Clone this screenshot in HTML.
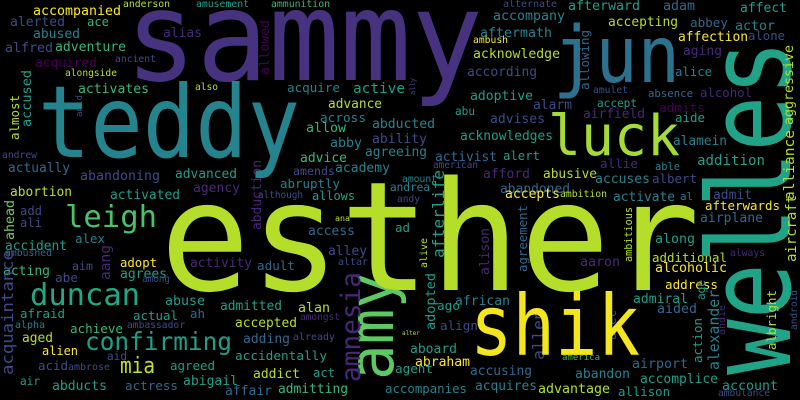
<!DOCTYPE html>
<html>
<head>
<meta charset="utf-8">
<style>
  html, body { margin: 0; padding: 0; background: #000; }
  #cloud { display: block; width: 800px; height: 400px; background: #000; }
  text { font-family: "DejaVu Sans Mono", "Liberation Mono", monospace; }
</style>
</head>
<body>
<svg id="cloud" width="800" height="400" viewBox="0 0 800 400" xmlns="http://www.w3.org/2000/svg">
  <rect x="0" y="0" width="800" height="400" fill="#000"></rect>
  <g id="words"></g>
</svg>
<script>
// palette keys -> viridis colours
const palette = {
  p0: '#440154', p1: '#482878', b: '#3e4a89', bt: '#31688e', t: '#26828e',
  tg: '#1f9e89', g: '#35b779', lg: '#6ece58', yg: '#b5de2b', y: '#fde725'
};
// horizontal words: [text, leftX, baselineY, width, colour, fontSize(optional)]
const bigWords = [
  ['sammy', 125, 80, 358, '#46327e', 125],
  ['teddy', 38, 157, 262, '#25838e', 100],
  ['jun', 553, 82, 127, '#2c728e', 78],
  ['luck', 548, 155, 132, '#a5db36', 56],
  ['esther', 160, 290, 540, '#b5de2b', 152],
  ['shik', 470, 355, 170, '#f4e61e', 84],
  ['leigh', 65, 227, 92, '#4ac16d', 30],
  ['duncan', 30, 305, 110, '#22a884', 30],
  ['confirming', 85, 350, 147, '#1f9e89', 25],
  ['mia', 120, 373, 35, '#c8e020', 22]
];
const smallWords = [
  ['accompanied',33,15,88,'y'],['anderson',123,7,47,'yg'],['amusement',196,7,53,'tg'],['ammunition',271,7,59,'g'],
  ['alerted',10,26,55,'b'],['ace',87,26,22,'g'],['abused',33,38,47,'t'],['alias',163,37,39,'p1'],
  ['alfred',5,52,48,'b'],['adventure',55,51,71,'g'],['acquired',35,67,62,'p0'],['ancient',115,62,41,'b'],
  ['alongside',65,76,52,'yg'],['activates',78,93,71,'g'],['also',195,90,23,'yg'],['acquire',287,92,53,'t'],
  ['active',353,93,52,'tg'],['advance',328,108,54,'yg'],['across',320,122,46,'t'],['allow',306,132,40,'g'],
  ['abducted',372,128,63,'t'],['ability',372,143,55,'b'],['abby',330,147,32,'t'],['agreeing',365,156,62,'t'],
  ['advice',300,162,47,'g'],['andrew',2,158,35,'b'],['actually',8,172,62,'bt'],['abandoning',80,180,80,'b'],
  ['advanced',175,178,62,'tg'],['academy',335,172,55,'t'],['amends',293,175,42,'b'],['agency',193,192,47,'p1'],
  ['abruptly',280,188,60,'t'],['abortion',10,196,62,'yg'],['activated',110,199,70,'tg'],['although',258,198,45,'b'],
  ['allows',312,200,43,'tg'],
  ['alternate',503,7,54,'b'],['afterward',568,10,72,'tg'],['adam',663,10,32,'bt'],['affect',740,12,47,'tg'],
  ['accompany',493,20,72,'t'],['accepting',608,26,70,'yg'],['abbey',690,27,38,'bt'],['actor',735,30,40,'t'],
  ['aftermath',480,37,72,'t'],['ambush',473,43,35,'y'],['affection',678,41,70,'y'],['alone',748,40,37,'b'],
  ['acknowledge',473,58,87,'yg'],['aging',683,55,39,'p1'],['according',467,76,70,'b'],['alice',675,76,37,'t'],
  ['amulet',593,93,35,'b'],['adoptive',470,100,63,'tg'],['absence',648,97,45,'bt'],['alcohol',700,97,52,'p1'],
  ['alarm',533,109,39,'b'],['accept',597,107,40,'tg'],['admits',659,112,46,'p0'],['abu',455,115,20,'tg'],
  ['advises',490,123,55,'b'],['airfield',583,118,62,'p1'],['aide',675,122,30,'tg'],['acknowledges',460,140,93,'tg'],
  ['alamein',673,145,54,'t'],['activist',435,161,62,'bt'],['alert',503,160,37,'tg'],['addition',697,165,68,'tg'],
  ['american',433,168,45,'b'],['allie',600,168,38,'p1'],['able',655,170,25,'t'],['afford',483,178,47,'p1'],
  ['abusive',543,178,54,'yg'],['amount',402,182,35,'t'],['accuses',595,183,55,'t'],['albert',652,183,45,'b'],
  ['andrea',390,191,40,'t'],['abandoned',500,193,70,'bt'],['accepts',505,198,55,'y'],['ambition',560,197,47,'yg'],
  ['activate',613,201,62,'t'],['al',680,200,13,'t'],['admit',713,199,39,'b'],['andy',397,202,23,'b'],
  ['add',20,215,22,'b'],['ali',20,227,22,'b'],['ana',335,221,15,'yg'],['alex',75,243,30,'t'],
  ['access',308,235,47,'bt'],['accident',5,250,62,'tg'],['ambushed',5,256,47,'bt'],['alley',328,255,39,'b'],
  ['adopt',120,267,37,'y'],['aim',72,270,21,'b'],['activity',190,267,62,'p1'],['adult',257,270,38,'bt'],
  ['acting',3,275,47,'g'],['agrees',120,278,47,'tg'],['altar',338,265,30,'b'],['abe',55,282,23,'b'],
  ['among',142,282,28,'b'],['ad',395,232,15,'tg'],['afterwards',705,210,75,'y'],['airplane',700,222,63,'bt'],
  ['along',655,243,40,'tg'],['always',730,256,35,'p1'],['additional',652,262,75,'yg'],['aaron',580,266,40,'p1'],
  ['alcoholic',655,272,72,'y'],['address',665,289,53,'y'],['african',455,305,55,'t'],['admiral',633,303,55,'tg'],
  ['ago',437,310,23,'tg'],['aided',657,313,40,'bt'],['abuse',165,305,40,'tg'],['admitted',220,310,62,'tg'],
  ['alan',298,312,32,'yg'],['afraid',20,318,45,'tg'],['actual',133,320,45,'tg'],['ah',190,318,15,'bt'],
  ['accepted',235,327,62,'yg'],['amongst',300,320,40,'p1'],['alpha',15,328,30,'t'],['ambassador',127,328,58,'b'],
  ['align',440,330,38,'b'],['alter',402,335,18,'yg'],['achieve',70,333,53,'g'],['already',293,340,42,'b'],
  ['aged',22,342,31,'yg'],['adding',243,343,47,'bt'],['aboard',410,353,47,'tg'],['alien',42,355,36,'y'],
  ['aid',107,360,20,'b'],['accidentally',235,360,92,'tg'],['america',562,360,38,'g'],['abraham',415,366,55,'y'],
  ['airport',632,368,56,'bt'],['acid',38,370,30,'b'],['ambrose',68,370,42,'b'],['agreed',170,370,45,'tg'],
  ['agent',395,373,38,'tg'],['accusing',470,375,62,'bt'],['abandon',575,378,55,'t'],['addict',253,378,47,'yg'],
  ['act',313,377,22,'tg'],['accomplice',640,383,78,'tg'],['abigail',183,385,55,'tg'],['air',20,385,20,'tg'],
  ['abducts',52,390,55,'tg'],['actress',125,390,53,'bt'],['acquires',475,390,62,'t'],['account',722,390,56,'tg'],
  ['affair',225,395,47,'bt'],['admitting',278,393,70,'g'],['accompanies',385,393,82,'t'],['advantage',538,393,72,'yg'],
  ['allison',618,396,52,'tg'],['ambulance',718,396,52,'b']
];
// vertical words (read bottom-to-top): [text, baselineX, bottomY, length, colour, fontSize(optional)]
const vertWords = [
  ['welles', 790, 375, 335, '#20a386', 115],
  ['amy', 393, 380, 107, '#5ec962', 62],
  ['amnesia', 360, 382, 110, '#482878', 27],
  ['allowed',269,75,55,'p0'],['almost',19,140,45,'yg'],['accused',31,127,57,'tg'],['amid',82,117,22,'b'],
  ['abduction',261,230,70,'p1'],['allowing',589,90,60,'bt'],['ally',415,95,17,'b'],['aggressive',793,125,80,'yg'],
  ['ahead',14,240,40,'lg'],['aang',110,280,35,'p1'],['acquaintance',13,375,125,'b'],['afterlife',444,258,88,'tg'],
  ['alive',427,268,30,'yg'],['alison',489,275,47,'p1'],['agreement',527,272,67,'bt'],['aircraft',796,262,67,'yg'],
  ['alliance',794,200,70,'yg'],['ambitious',632,262,55,'yg'],['adopted',435,330,57,'tg'],['alec',616,340,30,'b'],
  ['action',702,363,45,'tg'],['alexander',719,370,80,'t'],['andie',725,335,30,'p1'],['android',797,330,40,'b'],
  ['albright',776,350,60,'yg'],['allen',544,360,50,'b'],['age',705,300,20,'tg']
];

const NS = 'http://www.w3.org/2000/svg';
const group = document.getElementById('words');
function col(c) { return palette[c] || c; }
function makeText(w, fs) {
  const el = document.createElementNS(NS, 'text');
  el.textContent = w[0];
  el.setAttribute('font-size', fs);
  el.setAttribute('fill', col(w[4]));
  el.setAttribute('textLength', w[3]);
  el.setAttribute('lengthAdjust', 'spacingAndGlyphs');
  return el;
}
function addHorizontal(w) {
  const fs = w[5] || Math.min(16, w[3] / (w[0].length * 0.6));
  const el = makeText(w, fs);
  el.setAttribute('x', w[1]);
  el.setAttribute('y', w[2]);
  
  
  group.appendChild(el);
}
function addVertical(w) {
  const fs = w[5] || Math.min(16, w[3] / (w[0].length * 0.6));
  const el = makeText(w, fs);
  el.setAttribute('x', 0);
  el.setAttribute('y', 0);
  el.setAttribute('transform', 'translate(' + w[1] + ',' + w[2] + ') rotate(-90)');
  
  
  group.appendChild(el);
}
smallWords.forEach(addHorizontal);
vertWords.forEach(addVertical);
bigWords.forEach(addHorizontal);
</script>
</body>
</html>
